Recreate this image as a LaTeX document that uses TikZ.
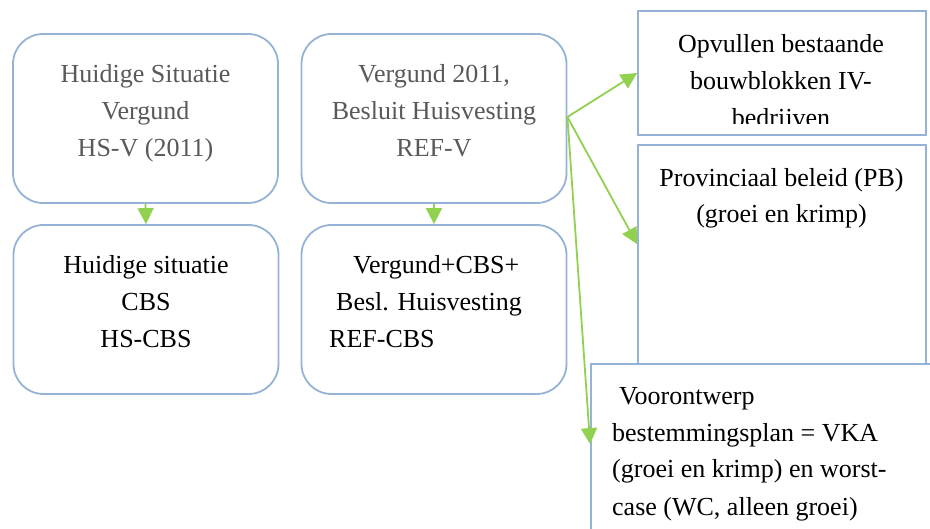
\documentclass[tikz,border=0pt]{standalone}
\usepackage{fontspec}
\setmainfont{Liberation Serif}
\usetikzlibrary{arrows.meta}
\definecolor{boxblue}{RGB}{149,179,215}
\definecolor{arrowgreen}{RGB}{146,208,80}
\definecolor{textgray}{RGB}{89,89,89}
\tikzset{
  rbox/.style={draw=boxblue, line width=1.8pt, rounded corners=30pt, inner sep=0pt, minimum width=265pt, minimum height=169pt},
  sbox/.style={draw=boxblue, line width=1.8pt, inner sep=0pt},
  txt/.style={font=\fontsize{26}{30}\selectfont, inner sep=0pt, anchor=base, text=black},
  gtxt/.style={txt, text=textgray},
  ltxt/.style={txt, anchor=base west},
  arr/.style={draw=arrowgreen, line width=1.8pt, -{Triangle[length=16pt,width=16pt]}}
}
\begin{document}
\begin{tikzpicture}[x=1pt,y=-1pt]
\useasboundingbox (0,0) rectangle (930,529);
\clip (0,0) rectangle (930,529);
\fill[white] (0,0) rectangle (930,529);

% rounded boxes
\node[rbox] (b1) at (145.5,118.5) {};
\node[rbox] (b2) at (434,118.5) {};
\node[rbox] (b3) at (146,309.5) {};
\node[rbox] (b4) at (434,309.5) {};

% right boxes
\node[sbox, minimum width=288pt, minimum height=124pt] (bA) at (782,73) {};
\node[sbox, minimum width=288pt, minimum height=219pt] (bB) at (782,254.5) {};
\node[sbox, minimum width=354pt, minimum height=182pt] (bC) at (768,455) {};

% texts box 1
\node[gtxt] (t1a) at (145.5,83) {Huidige Situatie};
\node[gtxt] (t1b) at (145.5,120) {Vergund};
\node[gtxt] (t1c) at (145.5,157) {HS-V (2011)};
% texts box 2
\node[gtxt] (t2a) at (434,83) {Vergund 2011,};
\node[gtxt] (t2b) at (434,120) {Besluit Huisvesting};
\node[gtxt] (t2c) at (434,157) {REF-V};
% texts box 3
\node[txt] (t3a) at (146,274) {Huidige situatie};
\node[txt] (t3b) at (146,311) {CBS};
\node[txt] (t3c) at (146,348) {HS-CBS};
% texts box 4
\node[ltxt] (t4a) at (353,274) {Vergund+CBS+};
\node[ltxt] (t4b) at (336,311) {Besl. Huisvesting};
\node[ltxt] (t4c) at (329,348) {REF-CBS};

% box A texts (clipped)
\begin{scope}
\clip (639,12) rectangle (925,123.5);
\node[txt] (tAa) at (781,53) {Opvullen bestaande};
\node[txt] (tAb) at (781,90) {bouwblokken IV-};
\node[txt] (tAc) at (781,127) {bedrijven};
\end{scope}

% box B texts
\node[txt] (tBa) at (781.5,187) {Provinciaal beleid (PB)};
\node[txt] (tBb) at (781.5,223) {(groei en krimp)};

% box C texts
\node[ltxt] (tCa) at (619,405) {Voorontwerp};
\node[ltxt] (tCb) at (612,442) {bestemmingsplan = VKA};
\node[ltxt] (tCc) at (612,478) {(groei en krimp) en worst-};
\node[ltxt] (tCd) at (612,515) {case (WC, alleen groei)};

% arrows
\draw[arr] (b1.south) -- (b3.north);
\draw[arr] (b2.south) -- (b4.north);
\coordinate (src) at ([yshift=1.5pt]b2.east);
\draw[arr] (src) -- (bA.west);
\draw[arr] (src) -- ([yshift=-100pt]bB.north west);
\draw[arr] (src) -- ([yshift=-81pt]bC.north west);
\end{tikzpicture}
\end{document}
